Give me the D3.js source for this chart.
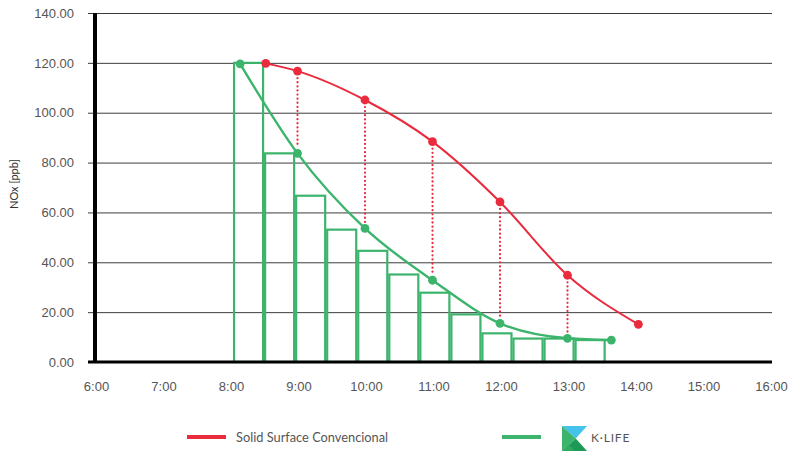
<!DOCTYPE html>
<html>
<head>
<meta charset="utf-8">
<script src="https://cdn.jsdelivr.net/npm/d3@7"></script>
<style>
  html, body { margin: 0; padding: 0; background: #fff; }
  svg { display: block; font-family: Lato, "Open Sans", sans-serif; }
</style>
</head>
<body>
<svg id="chart" width="788" height="453"></svg>
<script>
// Hour ticks on the time axis and NOx ticks on the value axis
const hourTicks = [6, 7, 8, 9, 10, 11, 12, 13, 14, 15, 16];
const noxTicks = [0, 20, 40, 60, 80, 100, 120, 140];

// Solid Surface Convencional: hourly readings (decimal hours, ppb)
const conventionalTime = [8.53, 9, 10, 11, 12, 13, 14.05];
const conventionalNOx = [119.8, 116.7, 105.1, 88.4, 64.2, 34.8, 15.1];

// K·LIFE: readings (decimal hours, ppb)
const klifeTime = [8.15, 9, 10, 11, 12, 13, 13.65];
const klifeNOx = [119.6, 83.7, 53.6, 32.8, 15.5, 9.5, 8.8];

// K·LIFE stepped decay: successive intervals and their NOx level
const stepIds = ["1", "2", "3", "4", "5", "6", "7", "8", "9", "10", "11", "12"];
const stepNOx = [120, 83.7, 66.7, 53.1, 44.6, 35.1, 27.8, 19.1, 11.5, 9.4, 9.4, 8.8];
const stepSpan = [8.06, 13.55];

// Hours where both series are compared
const compareHours = [9, 10, 11, 12, 13];

const legendConventional = "Solid Surface Convencional";
const legendKlife = "K·LIFE";
const yTitle = "NOx [ppb]";

const RED = "#ea2a3d";
const GREEN = "#3cb46c";

const svg = d3.select("#chart");
const plot = { left: 95, right: 772, top: 13, bottom: 362 };

const x = d3.scaleLinear().domain([6, 16]).range([plot.left, plot.right - 2]);
const y = d3.scaleLinear().domain([0, 140]).range([plot.bottom, plot.top]);
const band = d3.scaleBand().domain(stepIds)
  .range([x(stepSpan[0]), x(stepSpan[1])]).paddingInner(0.065).paddingOuter(0);

// horizontal gridlines with value labels
const yAxis = d3.axisLeft(y).tickValues(noxTicks)
  .tickFormat(d3.format(".2f"))
  .tickSize(-(plot.right - plot.left + 7)).tickPadding(14);
const gy = svg.append("g").attr("transform", `translate(${plot.left - 7},0)`).call(yAxis);
gy.select(".domain").remove();
gy.selectAll(".tick line").attr("stroke", "#3c3c3c").attr("stroke-width", 1)
  .attr("x1", 0).attr("x2", plot.right - plot.left + 7);
gy.selectAll(".tick text").attr("fill", "#555").attr("font-size", 13)
  .attr("x", -14);

// time axis labels
const xAxis = d3.axisBottom(x).tickValues(hourTicks)
  .tickFormat(d => `${d}:00`).tickSize(0).tickPadding(20);
const gx = svg.append("g").attr("transform", `translate(1,${plot.bottom})`).call(xAxis);
gx.select(".domain").remove();
gx.selectAll(".tick text").attr("fill", "#555").attr("font-size", 13);

// stepped bars
svg.append("g").selectAll("rect").data(stepIds).join("rect")
  .attr("x", d => band(d))
  .attr("width", band.bandwidth())
  .attr("y", (d, i) => y(stepNOx[i]))
  .attr("height", (d, i) => y(0) - y(stepNOx[i]))
  .attr("fill", "none")
  .attr("stroke", GREEN).attr("stroke-width", 2.2);

// axis lines
svg.append("line").attr("x1", plot.left - 7).attr("x2", plot.right)
  .attr("y1", y(0)).attr("y2", y(0)).attr("stroke", "#000").attr("stroke-width", 3);
svg.append("line").attr("x1", plot.left).attr("x2", plot.left)
  .attr("y1", y(140)).attr("y2", y(0) + 1).attr("stroke", "#000").attr("stroke-width", 4);

// dotted comparison links
const redAt = h => conventionalNOx[conventionalTime.indexOf(h)];
const greenAt = h => klifeNOx[klifeTime.indexOf(h)];
svg.append("g").selectAll("line").data(compareHours).join("line")
  .attr("x1", d => x(d)).attr("x2", d => x(d))
  .attr("y1", d => y(redAt(d)) + 7).attr("y2", d => y(greenAt(d)) - 6)
  .attr("stroke", RED).attr("stroke-width", 2.2)
  .attr("stroke-linecap", "round").attr("stroke-dasharray", "0.1,4");

// series lines
const line = d3.line().curve(d3.curveMonotoneX).x(d => x(d[0])).y(d => y(d[1]));
const redPts = conventionalTime.map((t, i) => [t, conventionalNOx[i]]);
const greenPts = klifeTime.map((t, i) => [t, klifeNOx[i]]);

svg.append("path").attr("d", line(redPts)).attr("fill", "none")
  .attr("stroke", RED).attr("stroke-width", 2);
svg.append("path").attr("d", line(greenPts)).attr("fill", "none")
  .attr("stroke", GREEN).attr("stroke-width", 2.4);

svg.append("g").selectAll("circle").data(redPts).join("circle")
  .attr("cx", d => x(d[0])).attr("cy", d => y(d[1])).attr("r", 4.4).attr("fill", RED);
svg.append("g").selectAll("circle").data(greenPts).join("circle")
  .attr("cx", d => x(d[0])).attr("cy", d => y(d[1])).attr("r", 4.4).attr("fill", GREEN);

// y axis title
svg.append("text").attr("transform", "translate(18,184) rotate(-90)")
  .attr("text-anchor", "middle").attr("font-size", 11).attr("fill", "#333")
  .text(yTitle);

// legend
const lg = svg.append("g");
lg.append("line").attr("x1", 187).attr("x2", 226).attr("y1", 437).attr("y2", 437)
  .attr("stroke", RED).attr("stroke-width", 4);
lg.append("text").attr("x", 236).attr("y", 441.5).attr("font-size", 12.8).attr("fill", "#555")
  .text(legendConventional);
lg.append("line").attr("x1", 502).attr("x2", 541).attr("y1", 437).attr("y2", 437)
  .attr("stroke", GREEN).attr("stroke-width", 4);

// K·LIFE mark
const logo = lg.append("g").attr("transform", "translate(562,426)");
const s = 25;
logo.append("polygon").attr("points", `0,0 ${s},0 ${s * 0.55},${s * 0.5}`).attr("fill", "#45c3ea");
logo.append("polygon").attr("points", `0,0 ${s * 0.55},${s * 0.5} 0,${s}`).attr("fill", "#3cb46c");
logo.append("polygon").attr("points", `0,${s} ${s * 0.55},${s * 0.5} ${s},${s}`).attr("fill", "#1e9a58");
logo.append("polygon").attr("points", `0,${s} ${s * 0.275},${s * 0.75} ${s * 0.5},${s}`).attr("fill", "#2fab62");
lg.append("text").attr("x", 591).attr("y", 442).attr("font-size", 12).attr("fill", "#555")
  .attr("letter-spacing", 0.8).text(legendKlife);
</script>
</body>
</html>
